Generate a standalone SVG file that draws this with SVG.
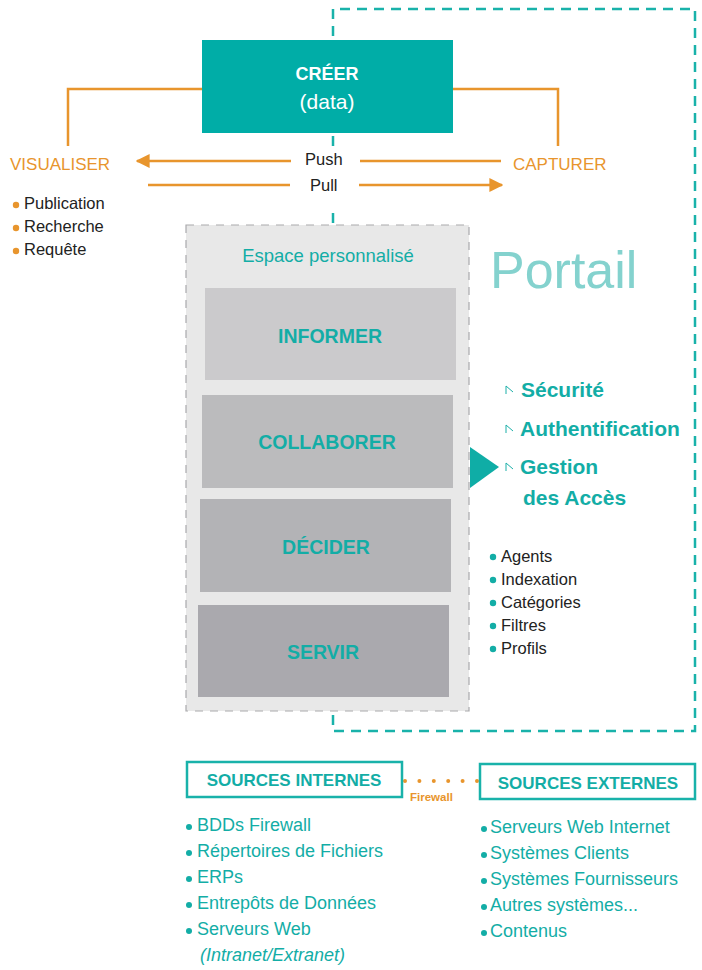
<svg xmlns="http://www.w3.org/2000/svg" width="702" height="970" viewBox="0 0 702 970">
  <defs>
    <marker id="arrowOrange" viewBox="0 0 10 10" refX="9" refY="5" markerWidth="14" markerHeight="14" markerUnits="userSpaceOnUse" orient="auto">
      <path d="M0,0 L10,5 L0,10 Z" fill="#E8952D"/>
    </marker>
    <g id="tick">
      <path d="M0,0 L0,8 M0,0 L7,6" fill="none" stroke="#1AAFA8" stroke-width="1"/>
    </g>
  </defs>
  <style>
    text { font-family: "Liberation Sans", Arial, sans-serif; }
    .orange-line { stroke: #E8952D; stroke-width: 2.5; fill: none; }
    .portal { stroke: #19B2AA; stroke-width: 2.5; stroke-dasharray: 10 7; fill: none; }
    .label-orange { fill: #E8952D; font-size: 17px; }
    .dark { fill: #222222; font-size: 16.5px; }
    .teal { fill: #13ADA6; }
    .block-title { fill: #13ADA6; font-size: 19.5px; font-weight: bold; text-anchor: middle; }
    .feature { fill: #13ADA6; font-size: 21px; font-weight: bold; }
    .src { fill: #13ADA6; font-size: 18px; }
    .src-box { fill: #FFFFFF; stroke: #19B2AA; stroke-width: 2.5; }
    .src-title { fill: #13ADA6; font-size: 17px; font-weight: bold; text-anchor: middle; }
  </style>

  <!-- Portail boundary -->
  <g id="portail">
    <path class="portal" d="M333,36 L333,9 L695,9 L695,731 L333,731 L333,700"/>
    <line class="portal" x1="333" y1="136" x2="333" y2="146"/>
    <line class="portal" x1="333" y1="213" x2="333" y2="224"/>
    <text x="490" y="288" fill="#84D2CE" font-size="52">Portail</text>
  </g>

  <!-- Connectors -->
  <g id="connectors">
    <path class="orange-line" d="M202,89 L68,89 L68,146"/>
    <path class="orange-line" d="M453,89 L558,89 L558,146"/>
    <line class="orange-line" x1="291" y1="161" x2="137" y2="161" marker-end="url(#arrowOrange)"/>
    <line class="orange-line" x1="360" y1="161" x2="501" y2="161"/>
    <line class="orange-line" x1="148" y1="185" x2="290" y2="185"/>
    <line class="orange-line" x1="359" y1="185" x2="502" y2="185" marker-end="url(#arrowOrange)"/>
    <polygon points="470,447 470,488 499,467" fill="#0FADA6"/>
    <line x1="405" y1="781" x2="480" y2="781" stroke="#E8952D" stroke-width="4" stroke-linecap="round" stroke-dasharray="0 14.4"/>
    <text x="410" y="801" fill="#E8952D" font-size="11.5" font-weight="bold">Firewall</text>
    <text x="305" y="165" class="dark" font-size="18">Push</text>
    <text x="310" y="191" class="dark" font-size="18">Pull</text>
  </g>

  <!-- CRÉER -->
  <g id="creer">
    <rect x="202" y="40" width="251" height="93" fill="#00ADA7"/>
    <text x="327" y="80" fill="#FFFFFF" font-size="18" font-weight="bold" text-anchor="middle">CRÉER</text>
    <text x="327" y="109" fill="#FFFFFF" font-size="21" text-anchor="middle">(data)</text>
  </g>

  <!-- VISUALISER -->
  <g id="visualiser">
    <text x="10" y="170" class="label-orange">VISUALISER</text>
    <circle cx="16" cy="205" r="3.2" fill="#E8952D"/>
    <text x="24" y="209" class="dark">Publication</text>
    <circle cx="16" cy="228" r="3.2" fill="#E8952D"/>
    <text x="24" y="232" class="dark">Recherche</text>
    <circle cx="16" cy="251" r="3.2" fill="#E8952D"/>
    <text x="24" y="255" class="dark">Requête</text>
  </g>

  <!-- CAPTURER -->
  <g id="capturer">
    <text x="513" y="170" class="label-orange">CAPTURER</text>
  </g>

  <!-- Espace personnalisé -->
  <g id="espace">
    <rect x="186" y="225" width="283" height="486" fill="#E8E8E8" stroke="#A9A9AC" stroke-width="1.2" stroke-dasharray="8 7"/>
    <text x="328" y="262" class="teal" font-size="18.5" text-anchor="middle">Espace personnalisé</text>
  </g>

  <g id="informer">
    <rect x="205" y="288" width="251" height="92" fill="#CBCACC"/>
    <text x="330" y="343" class="block-title">INFORMER</text>
  </g>
  <g id="collaborer">
    <rect x="202" y="395" width="251" height="93" fill="#BBBBBD"/>
    <text x="327" y="449" class="block-title">COLLABORER</text>
  </g>
  <g id="decider">
    <rect x="200" y="499" width="251" height="93" fill="#B3B3B6"/>
    <text x="326" y="554" class="block-title">DÉCIDER</text>
  </g>
  <g id="servir">
    <rect x="198" y="605" width="251" height="92" fill="#AAA9AE"/>
    <text x="323" y="659" class="block-title">SERVIR</text>
  </g>

  <!-- Services du portail -->
  <g id="services">
    <use href="#tick" x="506" y="386"/>
    <text x="521" y="397" class="feature">Sécurité</text>
    <use href="#tick" x="506" y="425"/>
    <text x="520" y="436" class="feature">Authentification</text>
    <use href="#tick" x="506" y="463"/>
    <text x="520" y="474" class="feature">Gestion</text>
    <text x="523" y="505" class="feature">des Accès</text>
  </g>

  <g id="outils">
    <circle cx="493" cy="557" r="3.2" fill="#13ADA6"/>
    <text x="501" y="562" class="dark">Agents</text>
    <circle cx="493" cy="580" r="3.2" fill="#13ADA6"/>
    <text x="501" y="585" class="dark">Indexation</text>
    <circle cx="493" cy="603" r="3.2" fill="#13ADA6"/>
    <text x="501" y="608" class="dark">Catégories</text>
    <circle cx="493" cy="626" r="3.2" fill="#13ADA6"/>
    <text x="501" y="631" class="dark">Filtres</text>
    <circle cx="493" cy="649" r="3.2" fill="#13ADA6"/>
    <text x="501" y="654" class="dark">Profils</text>
  </g>

  <!-- Sources internes -->
  <g id="sources-internes">
    <rect x="187" y="762" width="215" height="35" class="src-box"/>
    <text x="294" y="786" class="src-title">SOURCES INTERNES</text>
    <circle cx="189" cy="827" r="3" fill="#13ADA6"/>
    <text x="197" y="831" class="src">BDDs Firewall</text>
    <circle cx="189" cy="853" r="3" fill="#13ADA6"/>
    <text x="197" y="857" class="src">Répertoires de Fichiers</text>
    <circle cx="189" cy="879" r="3" fill="#13ADA6"/>
    <text x="197" y="883" class="src">ERPs</text>
    <circle cx="189" cy="905" r="3" fill="#13ADA6"/>
    <text x="197" y="909" class="src">Entrepôts de Données</text>
    <circle cx="189" cy="931" r="3" fill="#13ADA6"/>
    <text x="197" y="935" class="src">Serveurs Web</text>
    <text x="200" y="961" class="src" font-style="italic">(Intranet/Extranet)</text>
  </g>

  <!-- Sources externes -->
  <g id="sources-externes">
    <rect x="480" y="764" width="215" height="35" class="src-box"/>
    <text x="588" y="789" class="src-title">SOURCES EXTERNES</text>
    <circle cx="484" cy="829" r="3" fill="#13ADA6"/>
    <text x="490" y="833" class="src">Serveurs Web Internet</text>
    <circle cx="484" cy="855" r="3" fill="#13ADA6"/>
    <text x="490" y="859" class="src">Systèmes Clients</text>
    <circle cx="484" cy="881" r="3" fill="#13ADA6"/>
    <text x="490" y="885" class="src">Systèmes Fournisseurs</text>
    <circle cx="484" cy="907" r="3" fill="#13ADA6"/>
    <text x="490" y="911" class="src">Autres systèmes...</text>
    <circle cx="484" cy="933" r="3" fill="#13ADA6"/>
    <text x="490" y="937" class="src">Contenus</text>
  </g>
</svg>
